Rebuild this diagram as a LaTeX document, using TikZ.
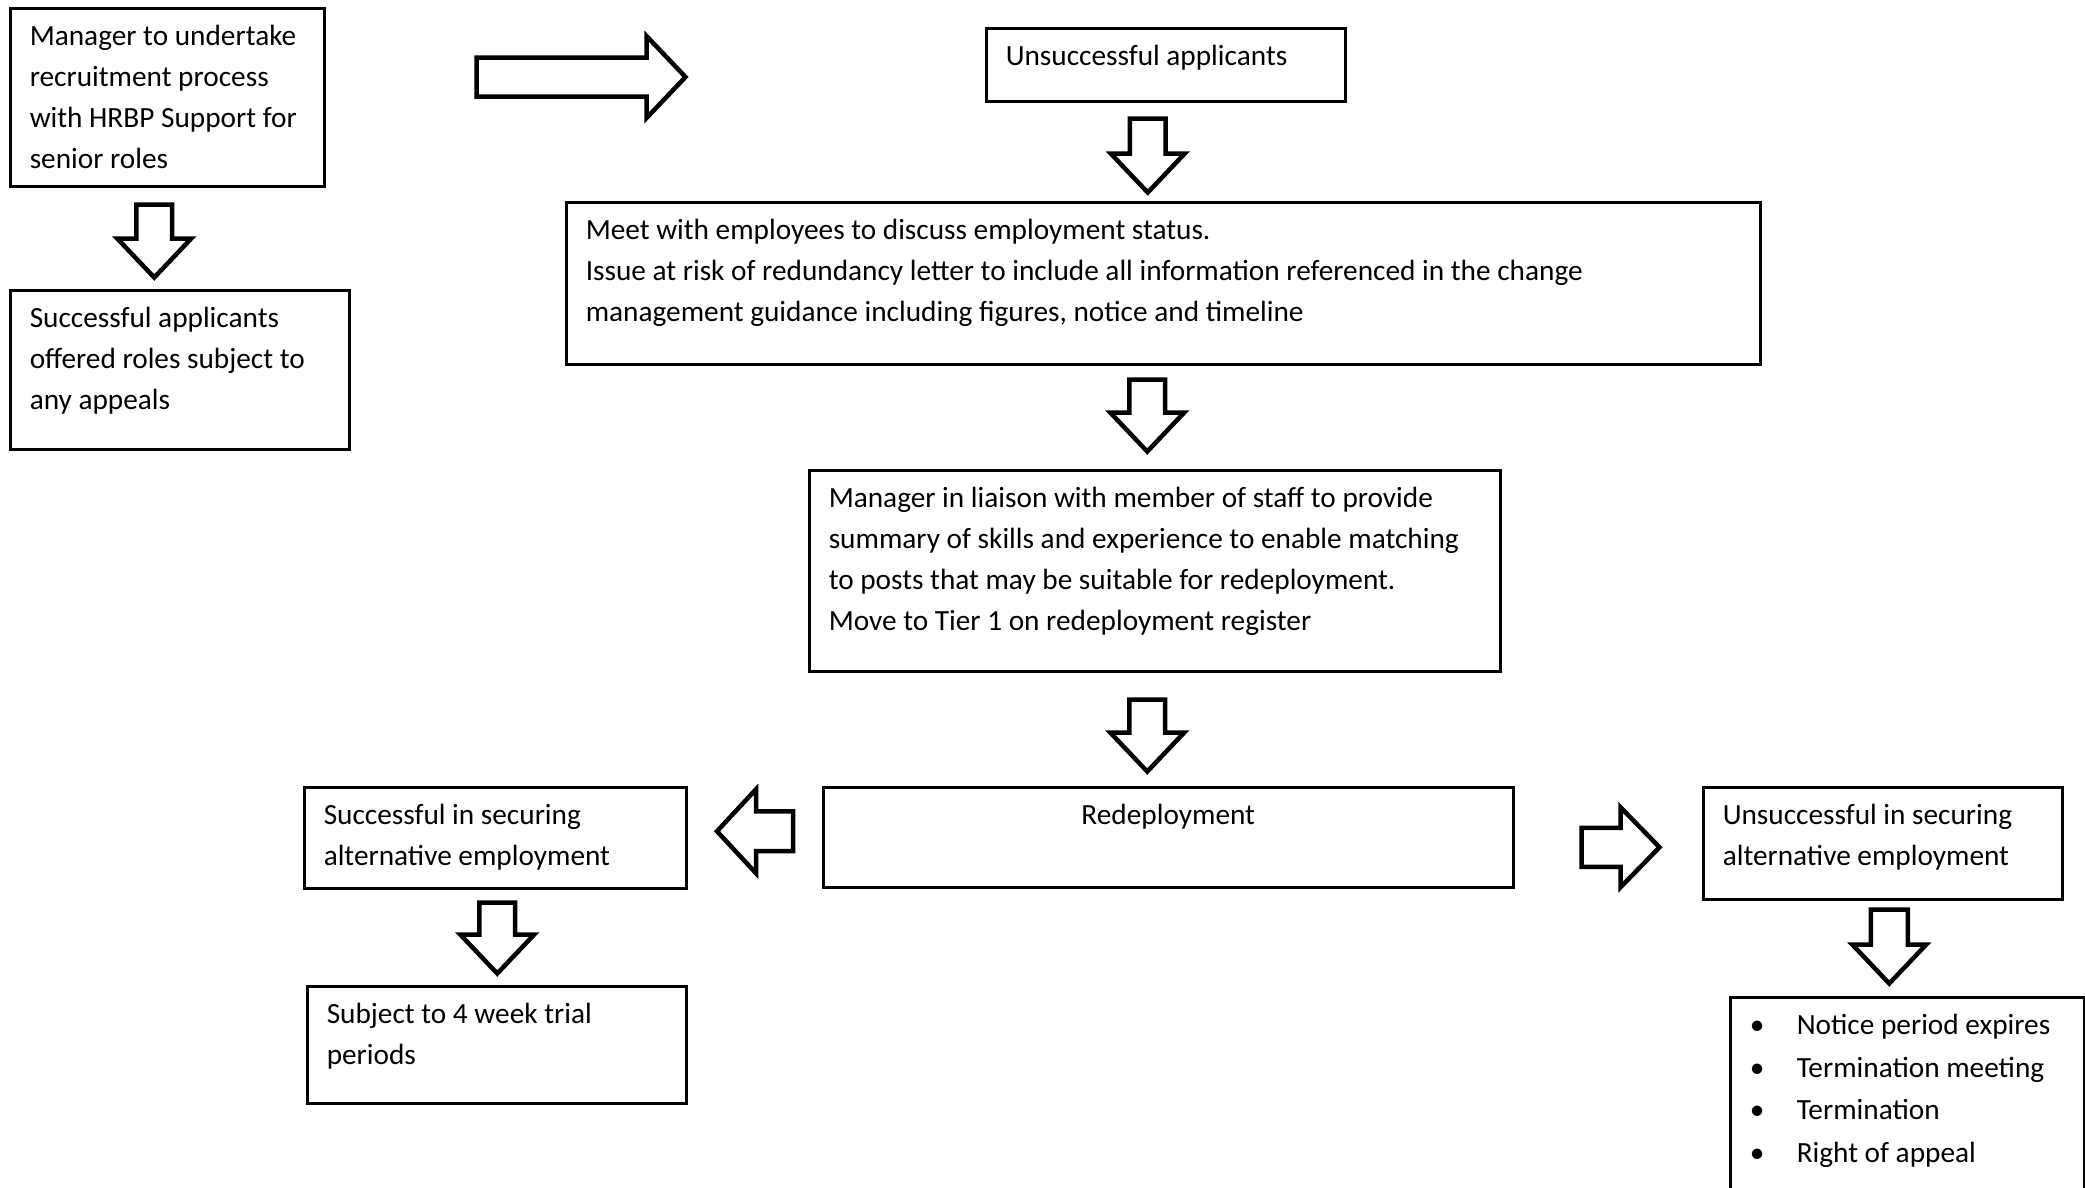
\documentclass[tikz,border=0pt]{standalone}
\usepackage{fontspec}
\setmainfont{Carlito}
\newcommand{\boxtext}[3]{\parbox[t][#2pt][t]{#1pt}{\raggedright\rule{0pt}{37pt}#3}}
\tikzset{
	box/.style={draw, line width=2.5pt, anchor=north west, inner xsep=19.5pt, inner ysep=0pt,
		font=\fontsize{29.3}{41}\selectfont},
	arrowline/.style={draw, line width=4.5pt, fill=white},
	% length / half shaft / half head
	pics/blockarrow/.style n args={3}{code={
		\draw[arrowline] (0,-#2) -- ({#1-39},-#2) -- ({#1-39},-#3) -- (#1,0)
			-- ({#1-39},#3) -- ({#1-39},#2) -- (0,#2) -- cycle;
	}}
}
\begin{document}
\begin{tikzpicture}[x=1pt, y=-1pt]

	\clip (0,0) rectangle (2085,1187);
	\fill[white] (0,0) rectangle (2085,1187);

	% boxes
	\node[box] (mgr) at (9,7) {\boxtext{275}{178}{Manager to undertake\\recruitment process\\with HRBP Support for\\senior roles}};
	\node[box] (offer) at (9,289) {\boxtext{300}{159}{Successful applicants\\offered roles subject to\\any appeals}};
	\node[box] (unsucc) at (985,27) {\boxtext{320}{73}{Unsuccessful applicants}};
	\node[box] (meet) at (565,201) {\boxtext{1155}{162}{Meet with employees to discuss employment status.\\Issue at risk of redundancy letter to include all information referenced in the change\\management guidance including figures, notice and timeline}};
	\node[box] (liaise) at (808,469) {\boxtext{652}{201}{Manager in liaison with member of staff to provide\\summary of skills and experience to enable matching\\to posts that may be suitable for redeployment.\\Move to Tier 1 on redeployment register}};
	\node[box] (redep) at (822,786) {\boxtext{651}{100}{\centering Redeployment}};
	\node[box] (secured) at (303,786) {\boxtext{343}{101}{Successful in securing\\alternative employment}};
	\node[box] (trial) at (306,985) {\boxtext{340}{117}{Subject to 4 week trial\\periods}};
	\node[box] (notsecured) at (1702,786) {\boxtext{320}{112}{Unsuccessful in securing\\alternative employment}};
	\node[box] (termin) at (1729,996) {\boxtext{315}{230}{\setlength{\baselineskip}{42.8pt}%
		\makebox[47pt][l]{\textbullet}Notice period expires\\
		\makebox[47pt][l]{\textbullet}Termination meeting\\
		\makebox[47pt][l]{\textbullet}Termination\\
		\makebox[47pt][l]{\textbullet}Right of appeal}};

	% block arrows
	\pic[rotate=-90] at ([shift={(-13,17)}]mgr.south) {blockarrow={73}{17.8}{37}};
	\pic at ([shift={(151,70)}]mgr.north east) {blockarrow={209}{19.5}{41}};
	\pic[rotate=-90] at ([shift={(-18,16)}]unsucc.south) {blockarrow={74}{17.8}{37}};
	\pic[rotate=-90] at ([shift={(-16,14)}]meet.south) {blockarrow={72}{17.8}{37}};
	\pic[rotate=-90] at ([shift={(-7.5,27)}]liaise.south) {blockarrow={72}{17.8}{37}};
	\pic[rotate=180] at ([shift={(-29,-6)}]redep.west) {blockarrow={76}{19.8}{42}};
	\pic[rotate=-90] at ([shift={(2,13)}]secured.south) {blockarrow={71}{17.8}{37}};
	\pic at ([shift={(67,10)}]redep.east) {blockarrow={78}{19.5}{40}};
	\pic[rotate=-90] at ([shift={(6.5,9)}]notsecured.south) {blockarrow={74}{18.5}{37}};

\end{tikzpicture}
\end{document}
